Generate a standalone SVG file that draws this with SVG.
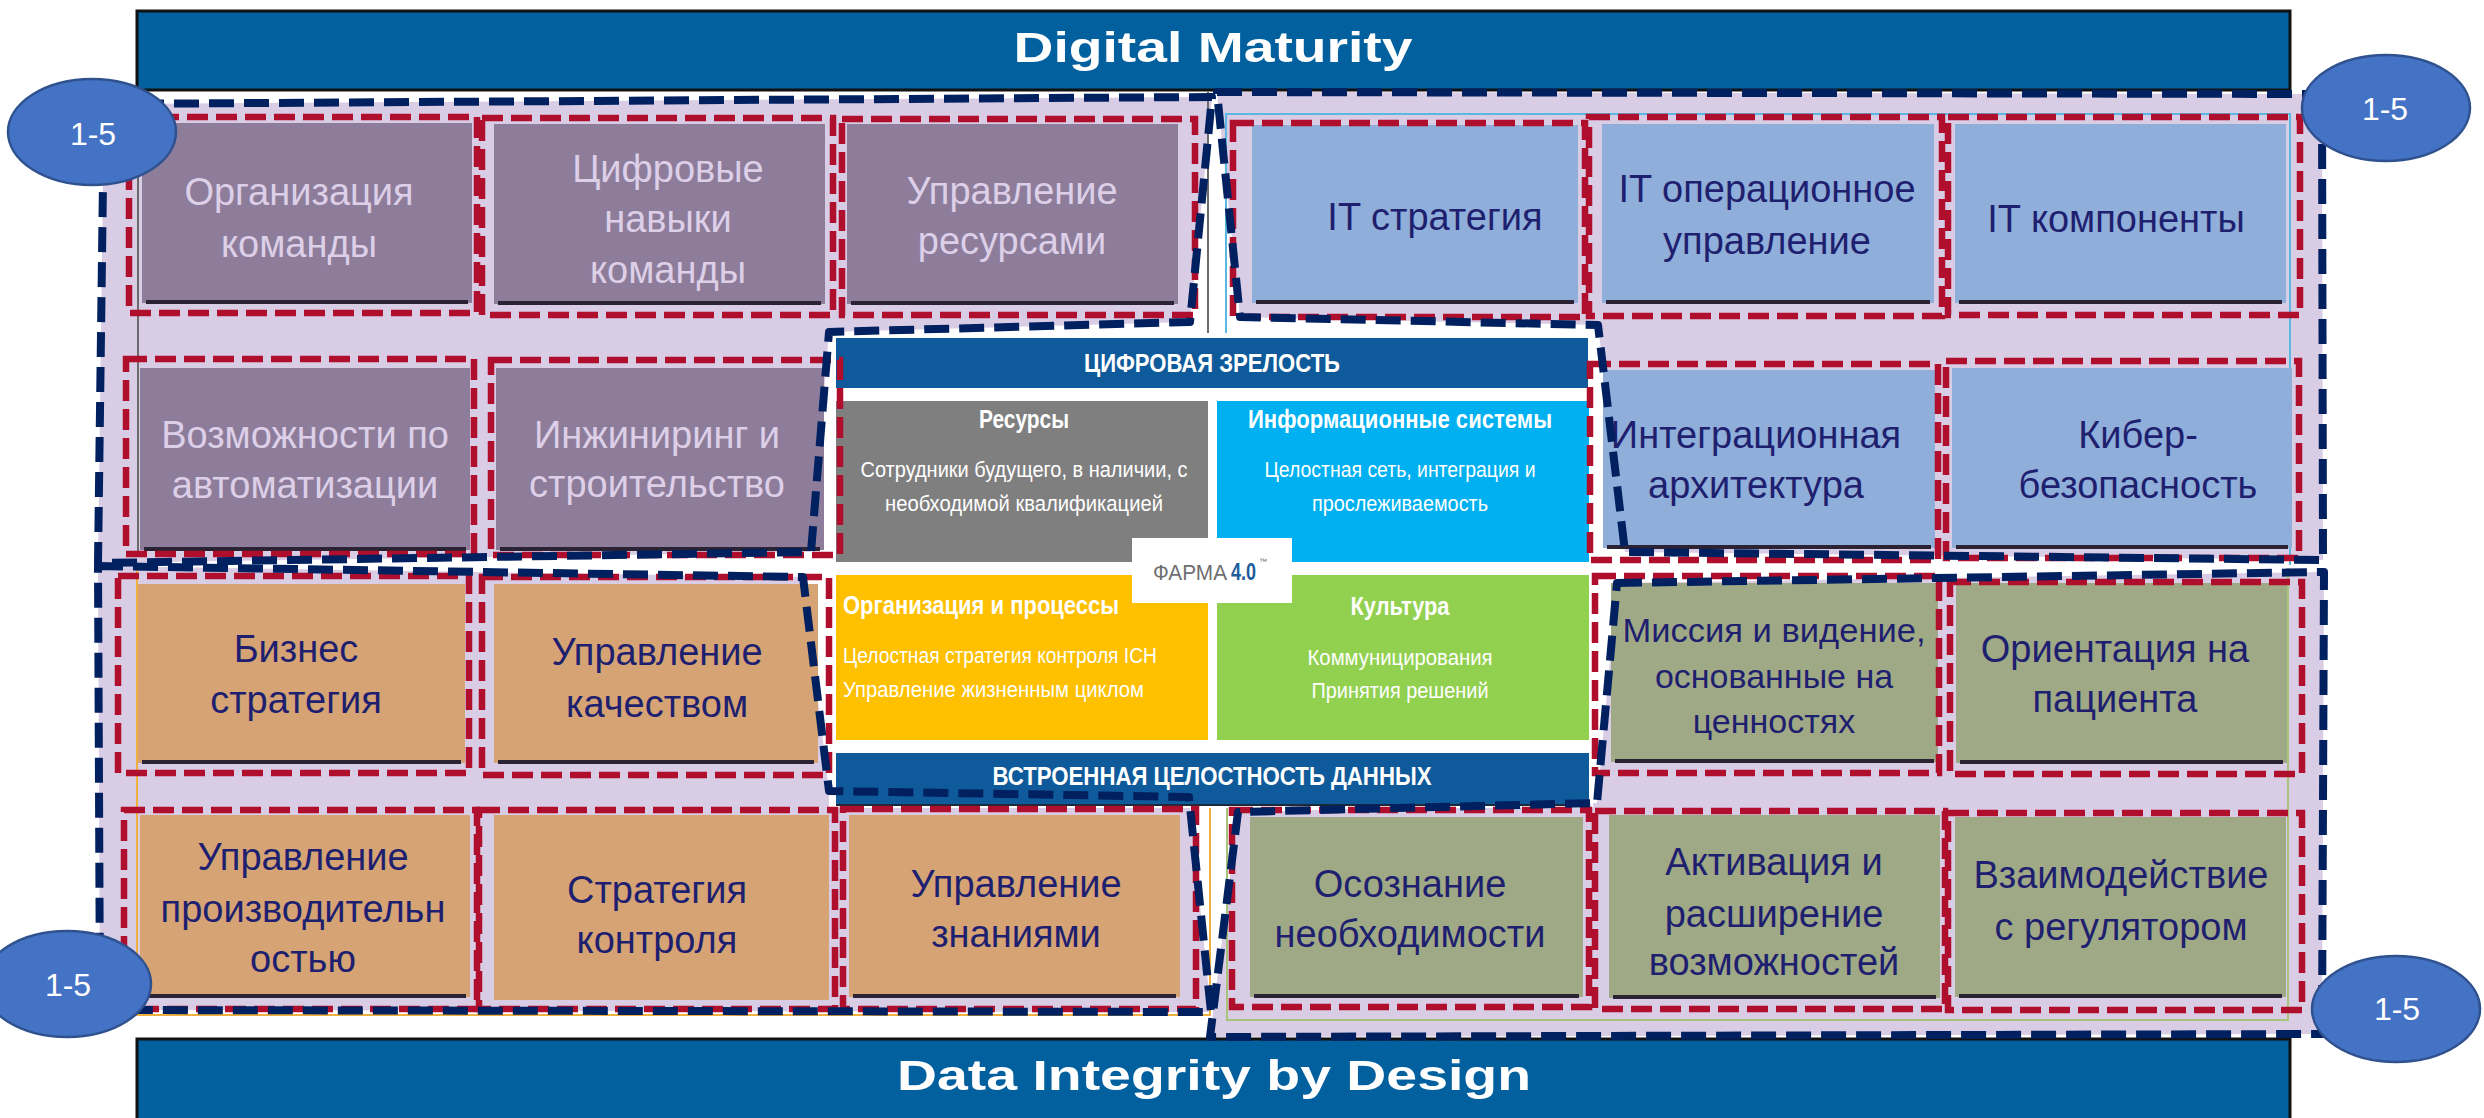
<svg xmlns="http://www.w3.org/2000/svg" width="2484" height="1118" viewBox="0 0 2484 1118">
  <style>
    .lav{fill:#D9CCE5}
    .frame{fill:none;stroke:#002060;stroke-width:8;stroke-dasharray:25 10;stroke-linejoin:round}
    .red{fill:none;stroke:#AF0F2C;stroke-width:6.5;stroke-dasharray:21 8}
    .pur{fill:#8D7D9A}
    .blu{fill:#8FAEDA}
    .org{fill:#D6A374}
    .olv{fill:#A0A985}
    .sh{stroke:#2B2333;stroke-width:4}
    .t{font-family:"Liberation Sans",Arial,sans-serif;font-size:38px;text-anchor:middle}
    .tl{fill:#DDCFE8}
    .tn{fill:#1F1F6F}
    .ban{fill:#03609F;stroke:#111;stroke-width:3}
    .bt{font-family:"Liberation Sans",Arial,sans-serif;font-weight:bold;font-size:42px;fill:#fff;text-anchor:middle}
    .c{font-family:"Liberation Sans",Arial,sans-serif;fill:#fff;font-size:22px}
    .cb{font-weight:bold;font-size:25px}
    .m{text-anchor:middle}
    .badge{fill:#4472C4;stroke:#2F528F;stroke-width:2.5}
    .bdt{font-family:"Liberation Sans",Arial,sans-serif;font-size:32px;fill:#fff;text-anchor:middle}
  </style>

  <rect width="2484" height="1118" fill="#fff"/>

  <!-- quadrant backgrounds -->
  <g id="quadrant-fills">
    <polygon class="lav" points="104,104 1212,97 1190,322 829,332 811,552 98,563"/>
    <polygon class="lav" points="1217,92 2322,94 2323,560 1625,552 1598,325 1240,317"/>
    <polygon class="lav" points="98,566 803,577 829,791 1189,797 1211,1012 100,1010"/>
    <polygon class="lav" points="1617,583 2324,572 2322,1034 1210,1037 1238,812 1597,803"/>
  </g>

  <!-- thin borders of the underlying panels -->
  <g id="panel-borders" fill="none" stroke-width="2">
    <path d="M138,92V557M1208,92V333" stroke="#6B6B6B"/>
    <path d="M1226,333V114H2290V565" stroke="#5BB8E0"/>
    <path d="M137,568V1015H1210V808" stroke="#F0B040"/>
    <path d="M1227,808V1020H2288V568" stroke="#A8C47A"/>
  </g>

  <!-- banners -->
  <g id="banner-top">
    <rect class="ban" x="137" y="11" width="2153" height="79"/>
    <text class="bt" x="1213" y="62" textLength="399" lengthAdjust="spacingAndGlyphs">Digital Maturity</text>
  </g>
  <g id="banner-bottom">
    <rect class="ban" x="137" y="1039" width="2153" height="85"/>
    <text class="bt" x="1214" y="1090" textLength="634" lengthAdjust="spacingAndGlyphs">Data Integrity by Design</text>
  </g>

  <!-- Pharma 4.0 core model -->
  <g id="pharma40">
    <rect x="829" y="333" width="764" height="475" fill="#fff"/>
    <rect x="836" y="338" width="752" height="50" fill="#0F5A9A"/>
    <rect x="836" y="401" width="372" height="161" fill="#7F7F7F"/>
    <rect x="1217" y="401" width="372" height="161" fill="#00B0F0"/>
    <rect x="836" y="575" width="372" height="165" fill="#FFC000"/>
    <rect x="1217" y="575" width="372" height="165" fill="#92D050"/>
    <rect x="1132" y="538" width="160" height="65" fill="#fff"/>
    <rect x="836" y="753" width="753" height="52" fill="#0F5A9A"/>
    <line x1="836" y1="805" x2="1589" y2="805" stroke="#1a2a3a" stroke-width="2"/>

    <text class="c cb m" x="1212" y="372" textLength="256" lengthAdjust="spacingAndGlyphs">ЦИФРОВАЯ ЗРЕЛОСТЬ</text>

    <text class="c cb m" x="1024" y="428" textLength="90" lengthAdjust="spacingAndGlyphs">Ресурсы</text>
    <text class="c m" x="1024" y="477" textLength="327" lengthAdjust="spacingAndGlyphs">Сотрудники будущего, в наличии, с</text>
    <text class="c m" x="1024" y="511" textLength="278" lengthAdjust="spacingAndGlyphs">необходимой квалификацией</text>

    <text class="c cb m" x="1400" y="428" textLength="304" lengthAdjust="spacingAndGlyphs">Информационные системы</text>
    <text class="c m" x="1400" y="477" textLength="271" lengthAdjust="spacingAndGlyphs">Целостная сеть, интеграция и</text>
    <text class="c m" x="1400" y="511" textLength="176" lengthAdjust="spacingAndGlyphs">прослеживаемость</text>

    <text class="c cb" x="843" y="614" textLength="276" lengthAdjust="spacingAndGlyphs">Организация и процессы</text>
    <text class="c" x="843" y="663" textLength="314" lengthAdjust="spacingAndGlyphs">Целостная стратегия контроля ICH</text>
    <text class="c" x="843" y="697" textLength="301" lengthAdjust="spacingAndGlyphs">Управление жизненным циклом</text>

    <text class="c cb m" x="1400" y="615" textLength="99" lengthAdjust="spacingAndGlyphs">Культура</text>
    <text class="c m" x="1400" y="665" textLength="185" lengthAdjust="spacingAndGlyphs">Коммуницирования</text>
    <text class="c m" x="1400" y="698" textLength="177" lengthAdjust="spacingAndGlyphs">Принятия решений</text>

    <text x="1153" y="580" font-family="Liberation Sans, Arial, sans-serif" font-size="22" fill="#6D6E71" textLength="74" lengthAdjust="spacingAndGlyphs">ФАРМА</text>
    <text x="1231" y="580" font-family="Liberation Sans, Arial, sans-serif" font-size="23" font-weight="bold" fill="#1E5C9B" textLength="25" lengthAdjust="spacingAndGlyphs">4.0</text>
    <text x="1259" y="564" font-family="Liberation Sans, Arial, sans-serif" font-size="8" fill="#6D6E71">™</text>

    <text class="c cb m" x="1212" y="785" textLength="439" lengthAdjust="spacingAndGlyphs">ВСТРОЕННАЯ ЦЕЛОСТНОСТЬ ДАННЫХ</text>
  </g>

  <!-- capability nodes: top-left (resources) -->
  <g id="node-team-org">
    <rect class="pur" x="142" y="123" width="330" height="180"/>
    <line class="sh" x1="146" y1="302" x2="468" y2="302"/>
    <text class="t tl"><tspan x="299" y="205">Организация</tspan><tspan x="299" y="257">команды</tspan></text>
    <rect class="red" x="129" y="117" width="348" height="196"/>
  </g>
  <g id="node-digital-skills">
    <rect class="pur" x="494" y="124" width="331" height="180"/>
    <line class="sh" x1="498" y1="303" x2="821" y2="303"/>
    <text class="t tl"><tspan x="668" y="182">Цифровые</tspan><tspan x="668" y="232">навыки</tspan><tspan x="668" y="283">команды</tspan></text>
    <rect class="red" x="482" y="118" width="351" height="197"/>
  </g>
  <g id="node-resource-mgmt">
    <rect class="pur" x="847" y="124" width="331" height="180"/>
    <line class="sh" x1="851" y1="303" x2="1174" y2="303"/>
    <text class="t tl"><tspan x="1012" y="204">Управление</tspan><tspan x="1012" y="254">ресурсами</tspan></text>
    <rect class="red" x="842" y="119" width="353" height="196"/>
  </g>
  <g id="node-automation">
    <rect class="pur" x="140" y="368" width="330" height="182"/>
    <line class="sh" x1="144" y1="549" x2="466" y2="549"/>
    <text class="t tl"><tspan x="305" y="448">Возможности по</tspan><tspan x="305" y="498">автоматизации</tspan></text>
    <rect class="red" x="126" y="359" width="348" height="195"/>
  </g>
  <g id="node-engineering">
    <rect class="pur" x="496" y="368" width="328" height="182"/>
    <line class="sh" x1="500" y1="549" x2="820" y2="549"/>
    <text class="t tl"><tspan x="657" y="448">Инжиниринг и</tspan><tspan x="657" y="497">строительство</tspan></text>
    <rect class="red" x="491" y="360" width="349" height="195"/>
  </g>

  <!-- capability nodes: top-right (information systems) -->
  <g id="node-it-strategy">
    <rect class="blu" x="1252" y="125" width="326" height="178"/>
    <line class="sh" x1="1256" y1="302" x2="1574" y2="302"/>
    <text class="t tn" x="1435" y="230">IT стратегия</text>
    <rect class="red" x="1233" y="123" width="352" height="194"/>
  </g>
  <g id="node-it-ops">
    <rect class="blu" x="1602" y="124" width="332" height="179"/>
    <line class="sh" x1="1606" y1="302" x2="1930" y2="302"/>
    <text class="t tn"><tspan x="1767" y="202">IT операционное</tspan><tspan x="1767" y="254">управление</tspan></text>
    <rect class="red" x="1589" y="117" width="353" height="199"/>
  </g>
  <g id="node-it-components">
    <rect class="blu" x="1955" y="124" width="331" height="179"/>
    <line class="sh" x1="1959" y1="302" x2="2282" y2="302"/>
    <text class="t tn" x="2116" y="232">IT компоненты</text>
    <rect class="red" x="1948" y="117" width="352" height="198"/>
  </g>
  <g id="node-integration">
    <rect class="blu" x="1603" y="370" width="332" height="178"/>
    <line class="sh" x1="1607" y1="547" x2="1931" y2="547"/>
    <text class="t tn"><tspan x="1756" y="448">Интеграционная</tspan><tspan x="1756" y="498">архитектура</tspan></text>
    <rect class="red" x="1590" y="364" width="348" height="196"/>
  </g>
  <g id="node-cyber">
    <rect class="blu" x="1952" y="368" width="340" height="180"/>
    <line class="sh" x1="1956" y1="547" x2="2288" y2="547"/>
    <text class="t tn"><tspan x="2138" y="448">Кибер-</tspan><tspan x="2138" y="498">безопасность</tspan></text>
    <rect class="red" x="1946" y="361" width="353" height="197"/>
  </g>

  <!-- capability nodes: bottom-left (organisation and processes) -->
  <g id="node-business-strategy">
    <rect class="org" x="138" y="584" width="327" height="179"/>
    <line class="sh" x1="142" y1="762" x2="461" y2="762"/>
    <text class="t tn"><tspan x="296" y="662">Бизнес</tspan><tspan x="296" y="713">стратегия</tspan></text>
    <rect class="red" x="118" y="576" width="351" height="197"/>
  </g>
  <g id="node-quality">
    <rect class="org" x="494" y="584" width="324" height="179"/>
    <line class="sh" x1="498" y1="762" x2="814" y2="762"/>
    <text class="t tn"><tspan x="657" y="665">Управление</tspan><tspan x="657" y="717">качеством</tspan></text>
    <rect class="red" x="482" y="577" width="347" height="198"/>
  </g>
  <g id="node-performance">
    <rect class="org" x="140" y="815" width="330" height="182"/>
    <line class="sh" x1="144" y1="996" x2="466" y2="996"/>
    <text class="t tn"><tspan x="303" y="870">Управление</tspan><tspan x="303" y="922">производительн</tspan><tspan x="303" y="972">остью</tspan></text>
    <rect class="red" x="124" y="810" width="353" height="199"/>
  </g>
  <g id="node-control-strategy">
    <rect class="org" x="494" y="815" width="335" height="185"/>
    <text class="t tn"><tspan x="657" y="903">Стратегия</tspan><tspan x="657" y="953">контроля</tspan></text>
    <rect class="red" x="479" y="810" width="356" height="199"/>
  </g>
  <g id="node-knowledge">
    <rect class="org" x="849" y="815" width="331" height="182"/>
    <line class="sh" x1="853" y1="996" x2="1176" y2="996"/>
    <text class="t tn"><tspan x="1016" y="897">Управление</tspan><tspan x="1016" y="947">знаниями</tspan></text>
    <rect class="red" x="843" y="809" width="353" height="200"/>
  </g>

  <!-- capability nodes: bottom-right (culture) -->
  <g id="node-mission">
    <rect class="olv" x="1611" y="583" width="327" height="179"/>
    <line class="sh" x1="1615" y1="761" x2="1934" y2="761"/>
    <text class="t tn" font-size="34" style="font-size:34px"><tspan x="1774" y="642" textLength="303" lengthAdjust="spacingAndGlyphs">Миссия и видение,</tspan><tspan x="1774" y="688">основанные на</tspan><tspan x="1774" y="733">ценностях</tspan></text>
    <rect class="red" x="1595" y="576" width="344" height="197"/>
  </g>
  <g id="node-patient">
    <rect class="olv" x="1956" y="583" width="331" height="180"/>
    <line class="sh" x1="1960" y1="762" x2="2283" y2="762"/>
    <text class="t tn"><tspan x="2115" y="662">Ориентация на</tspan><tspan x="2115" y="712">пациента</tspan></text>
    <rect class="red" x="1950" y="582" width="352" height="192"/>
  </g>
  <g id="node-awareness">
    <rect class="olv" x="1250" y="817" width="333" height="180"/>
    <line class="sh" x1="1254" y1="996" x2="1579" y2="996"/>
    <text class="t tn"><tspan x="1410" y="897">Осознание</tspan><tspan x="1410" y="947">необходимости</tspan></text>
    <rect class="red" x="1232" y="810" width="357" height="197"/>
  </g>
  <g id="node-enablement">
    <rect class="olv" x="1609" y="815" width="331" height="183"/>
    <line class="sh" x1="1613" y1="997" x2="1936" y2="997"/>
    <text class="t tn"><tspan x="1774" y="875">Активация и</tspan><tspan x="1774" y="927">расширение</tspan><tspan x="1774" y="975">возможностей</tspan></text>
    <rect class="red" x="1595" y="811" width="350" height="198"/>
  </g>
  <g id="node-regulator">
    <rect class="olv" x="1955" y="817" width="331" height="180"/>
    <line class="sh" x1="1959" y1="996" x2="2282" y2="996"/>
    <text class="t tn"><tspan x="2121" y="888">Взаимодействие</tspan><tspan x="2121" y="940">с регулятором</tspan></text>
    <rect class="red" x="1948" y="813" width="354" height="197"/>
  </g>

  <!-- dashed quadrant frames -->
  <g id="group-frames">
    <polygon class="frame" points="104,104 1212,97 1190,322 829,332 811,552 98,563"/>
    <polygon class="frame" points="1217,92 2322,94 2323,560 1625,552 1598,325 1240,317"/>
    <polygon class="frame" points="98,566 803,577 829,791 1189,797 1211,1012 100,1010"/>
    <polygon class="frame" points="1617,583 2324,572 2322,1034 1210,1037 1238,812 1597,803"/>
  </g>

  <!-- maturity level badges -->
  <g id="badge-tl">
    <ellipse class="badge" cx="92" cy="132" rx="84" ry="53"/>
    <text class="bdt" x="93" y="145">1-5</text>
  </g>
  <g id="badge-tr">
    <ellipse class="badge" cx="2386" cy="108" rx="84" ry="53"/>
    <text class="bdt" x="2385" y="120">1-5</text>
  </g>
  <g id="badge-bl">
    <ellipse class="badge" cx="67" cy="984" rx="84" ry="53"/>
    <text class="bdt" x="68" y="996">1-5</text>
  </g>
  <g id="badge-br">
    <ellipse class="badge" cx="2396" cy="1009" rx="84" ry="53"/>
    <text class="bdt" x="2397" y="1020">1-5</text>
  </g>
</svg>
